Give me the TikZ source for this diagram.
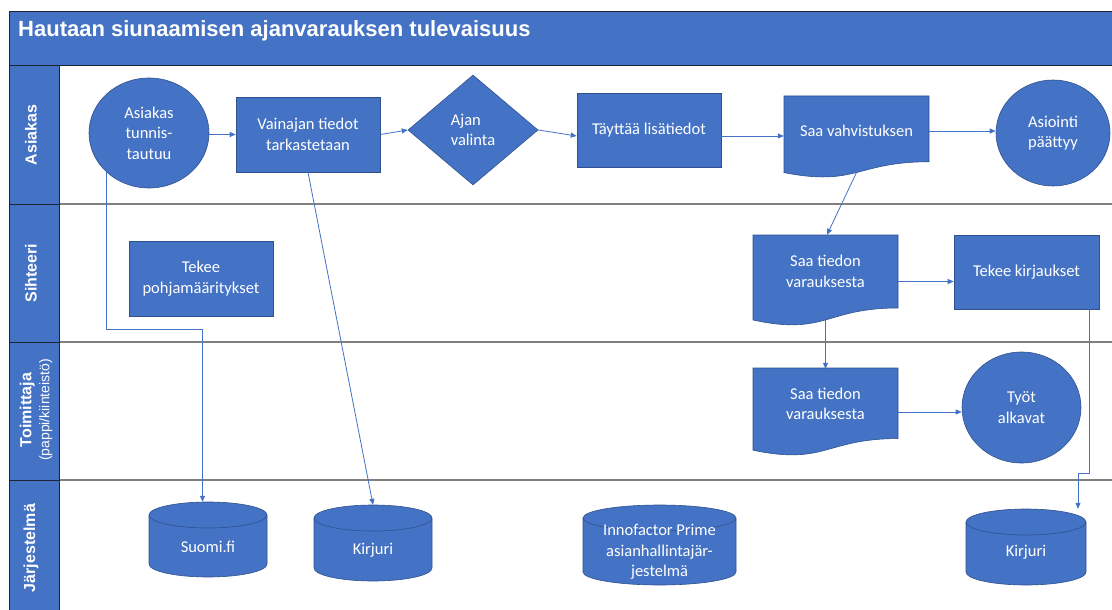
\documentclass[tikz,border=0pt]{standalone}
\usepackage{fontspec}
\setmainfont{Carlito}
\newfontfamily\arialfont{Liberation Sans}
\usetikzlibrary{shapes.geometric,arrows.meta,calc}

\definecolor{office}{HTML}{4472C4}
\definecolor{officedark}{HTML}{2F528F}
\definecolor{frameline}{HTML}{1C2536}
\definecolor{lanegray}{HTML}{808080}

\newcommand\stepfont{\fontsize{16.5}{20.5}\selectfont}

\tikzset{
  shapefill/.style={fill=office, draw=officedark, line width=0.6pt},
  stepbox/.style={rectangle, shapefill, minimum width=144pt, minimum height=75pt,
    inner sep=0pt, text=white, font=\stepfont, align=center},
  roundnode/.style={ellipse, shapefill, inner sep=0pt, text=white,
    font=\stepfont, align=center},
  labelbox/.style={rectangle, draw=none, fill=none, inner sep=0pt, text=white,
    font=\stepfont, align=center},
  conn/.style={draw=office, line width=0.8pt, -{Triangle[length=6pt,width=5pt]}},
  lanelabel/.style={rotate=90, text=white, inner sep=0pt, align=center,
    font=\arialfont\bfseries\fontsize{16}{19}\selectfont},
}

% document shape: x0, x1, top, full height
\newcommand\drawdoc[4]{%
  \path[shapefill] (#1,#3) -- (#2,#3) -- (#2,{#3+0.802*#4})
    .. controls ({(#1+#2)/2},{#3+0.802*#4}) and ({(#1+#2)/2},{#3+1.1075*#4})
    .. (#1,{#3+0.934*#4}) -- cycle;}

% cylinder: x0, x1, top, bottom, x radius
\newcommand\drawcyl[5]{%
  \path[shapefill] (#1,{#3+13}) -- (#1,{#4-13})
    arc[start angle=180, end angle=360, x radius=#5pt, y radius=13pt]
    -- (#2,{#3+13})
    arc[start angle=0, end angle=180, x radius=#5pt, y radius=13pt] -- cycle;
  \draw[officedark, line width=0.6pt] (#1,{#3+13})
    arc[start angle=180, end angle=360, x radius=#5pt, y radius=13pt];}

\begin{document}
\begin{tikzpicture}[x=1pt, y=-1pt]
\useasboundingbox (0,0) rectangle (1112,610);
\fill[white] (0,0) rectangle (1112,610);

% header band and lane label column
\fill[office] (9,12) rectangle (1112,66);
\fill[office] (9,66) rectangle (59,610);
\foreach \yy in {204,342,480}
  \draw[lanegray, line width=1.6pt] (59,\yy) -- (1112,\yy);
\draw[frameline, line width=1pt] (1112,12) -- (9,12) -- (9,610);
\draw[frameline, line width=1pt] (9,66) -- (1112,66);
\draw[frameline, line width=1pt] (59,66) -- (59,610);
\foreach \yy in {204,342,480}
  \draw[frameline, line width=1pt] (9,\yy) -- (59,\yy);

\node[anchor=base west, text=white, inner sep=0pt,
  font=\arialfont\bfseries\fontsize{22}{25}\selectfont] (title) at (18,37)
  {Hautaan siunaamisen ajanvarauksen tulevaisuus};

\node[lanelabel] (laneA) at (31,135) {Asiakas};
\node[lanelabel] (laneB) at (31,273) {Sihteeri};
\node[lanelabel] (laneC) at (36,410)
  {Toimittaja\\[-1pt]{\fontsize{14}{17}\selectfont\mdseries (pappi/kiinteistö)}};
\node[lanelabel] (laneD) at (31,548) {Järjestelmä};

% Asiakas lane
\node[roundnode, minimum width=120pt, minimum height=110pt] (asiakas) at (149,133)
  {Asiakas\\tunnis-\\tautuu};
\node[stepbox] (vainaja) at (308,134.5) {Vainajan tiedot\\tarkastetaan};
\node[diamond, shapefill, minimum width=130pt, minimum height=110pt, inner sep=0pt,
  text=white, font=\stepfont, align=left] (valinta) at (473,130) {Ajan\\valinta};
\node[stepbox, minimum height=74pt] (taytto) at (649,130) {Täyttää lisätiedot};
\drawdoc{784}{929}{96}{82}
\node[labelbox, minimum width=145pt, minimum height=66pt] (vahvistus) at (856.5,131)
  {Saa vahvistuksen};
\coordinate (vahvistusala) at (856.5,172.5);
\node[roundnode, minimum width=114pt, minimum height=106pt] (paattyy) at (1053,133)
  {Asiointi\\päättyy};

% Sihteeri lane
\node[stepbox] (pohja) at (201,278.5) {Tekee\\pohjamääritykset};
\drawdoc{753}{898}{235}{91}
\node[labelbox, minimum width=145pt, minimum height=73pt] (tiedonA) at (825.5,271.5)
  {Saa tiedon\\varauksesta};
\coordinate (tiedonAala) at (825.5,320);
\node[stepbox, minimum width=145pt, minimum height=74pt] (kirjaukset) at (1026.5,272)
  {Tekee kirjaukset};

% Toimittaja lane
\drawdoc{753}{898}{368}{88}
\node[labelbox, minimum width=145pt, minimum height=70pt] (tiedonB) at (825.5,404)
  {Saa tiedon\\varauksesta};
\node[roundnode, minimum width=119pt, minimum height=111pt] (tyot) at (1021.5,407.5)
  {Työt\\alkavat};

% Järjestelmä lane
\drawcyl{149}{267}{502}{577}{59}
\node[labelbox, minimum width=118pt, minimum height=89pt] (suomi) at (208,546.5) {Suomi.fi};
\drawcyl{314}{432}{505}{581}{59}
\node[labelbox, minimum width=118pt, minimum height=90pt] (kirjuri) at (373,550) {Kirjuri};
\drawcyl{583}{736}{505}{585}{76.5}
\node[labelbox, minimum width=153pt, minimum height=94pt] (prime) at (659.5,552)
  {Innofactor Prime\\asianhallintajär-\\jestelmä};
\drawcyl{966}{1086}{509}{585}{60}
\node[labelbox, minimum width=120pt, minimum height=86pt] (kirjuri2) at (1026,552) {Kirjuri};

% connectors
\draw[conn] (asiakas.east |- vainaja.west) -- (vainaja.west);
\draw[conn] (vainaja.east) -- (valinta.west);
\draw[conn] (valinta.east) -- ([yshift=-6pt]taytto.west);
\coordinate (tayttoulos) at ([yshift=-6pt]taytto.east);
\draw[conn] (tayttoulos) -- (tayttoulos -| vahvistus.west);
\draw[conn] (vahvistus.east) -- (vahvistus.east -| paattyy.west);
\draw[conn] (vahvistusala) -- ([xshift=1.5pt]tiedonA.north);
\draw[conn] (tiedonAala) -- (tiedonB.north);
\coordinate (tiedonAulos) at ([yshift=-10pt]tiedonA.east);
\draw[conn] (tiedonAulos) -- (tiedonAulos -| kirjaukset.west);
\coordinate (tiedonBulos) at ([yshift=-8pt]tiedonB.east);
\draw[conn] (tiedonBulos) -- (tiedonBulos -| tyot.west);
\draw[conn] ([xshift=-10pt]kirjaukset.south east) -- ++(0,164) -| ([xshift=52pt]kirjuri2.north);
\draw[conn] (asiakas.south west) -- ++(0,157.5) -| ([xshift=-5.5pt]suomi.north);
\draw[conn] (vainaja.south) -- (kirjuri.north);
\end{tikzpicture}
\end{document}
